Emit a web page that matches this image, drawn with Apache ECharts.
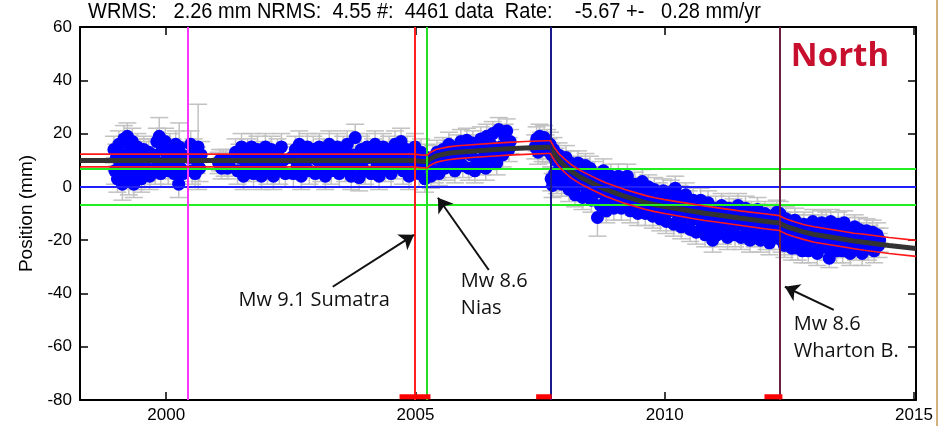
<!DOCTYPE html>
<html>
<head>
<meta charset="utf-8">
<script src="https://cdn.jsdelivr.net/npm/echarts@6/dist/echarts.min.js"></script>
<style>
  html, body { margin: 0; padding: 0; background: #fff; }
  #chart { width: 940px; height: 426px; }
</style>
</head>
<body>
<div id="chart"></div>
<script>
// daily north positions: [decimal year, north (mm), sigma (mm)]
const obsNorth = [
  [1998.95,14,5],[1998.97,6,5],[1999.00,11,5],[1999.02,3,5],[1999.05,16,5],[1999.07,8,5],[1999.10,12,5],[1999.12,1,6],
  [1999.15,18,5],[1999.17,5,5],[1999.20,10,5],[1999.22,19,5],[1999.25,2,5],[1999.27,14,5],[1999.30,7,5],[1999.32,17,5],
  [1999.35,1,5],[1999.37,11,5],[1999.40,4,5],[1999.42,15,5],[1999.45,8,5],[1999.47,13,5],[1999.50,3,5],[1999.52,10,5],
  [1999.55,14,5],[1999.57,5,5],[1999.60,12,5],[1999.62,7,5],[1999.65,13,5],[1999.67,4,5],
  [1999.75,12,5],[1999.78,6,5],[1999.81,17,5],[1999.84,9,5],[1999.86,19,7],[1999.89,5,5],[1999.92,14,5],[1999.95,8,5],
  [1999.98,17,5],[2000.01,11,5],[2000.04,6,5],[2000.07,15,5],[2000.10,9,5],[2000.13,13,5],[2000.16,5,5],[2000.19,16,5],
  [2000.22,10,5],[2000.25,1,5],[2000.26,15,9],[2000.29,7,5],[2000.32,12,5],[2000.34,5,5],
  [2000.46,11,5],[2000.49,16,5],[2000.52,6,5],[2000.55,13,5],[2000.58,5,5],[2000.61,10,5],[2000.64,15,16],[2000.67,7,5],[2000.70,12,5],
  [2001.05,9,4],[2001.08,10,4],[2001.11,7,4],[2001.14,10,4],[2001.17,8,4],[2001.20,10,4],[2001.23,7,4],[2001.26,9,4],
  [2001.39,13,5],[2001.43,6,5],[2001.47,11,5],[2001.51,15,5],[2001.55,4,5],[2001.59,9,5],[2001.63,13,5],[2001.67,7,5],
  [2001.71,15,5],[2001.75,5,5],[2001.79,11,5],[2001.83,14,5],[2001.87,8,5],[2001.91,4,5],[2001.95,12,5],[2001.99,15,5],
  [2002.03,6,5],[2002.07,10,5],[2002.11,14,5],[2002.15,4,5],[2002.19,9,5],[2002.23,13,5],[2002.27,6,5],[2002.31,15,5],
  [2002.35,10,5],[2002.39,5,5],
  [2002.51,11,5],[2002.55,5,5],[2002.59,14,5],[2002.63,8,5],[2002.67,16,5],[2002.71,4,5],[2002.75,12,5],[2002.79,9,5],
  [2002.83,15,5],[2002.87,6,5],[2002.91,11,5],[2002.95,14,5],[2002.99,5,5],[2003.03,10,5],[2003.07,15,5],[2003.11,7,5],
  [2003.15,13,5],[2003.19,4,5],[2003.23,10,5],[2003.27,16,5],[2003.31,6,5],[2003.35,12,5],[2003.39,9,5],[2003.43,15,5],
  [2003.47,5,5],[2003.51,11,5],[2003.55,14,5],[2003.59,7,5],[2003.63,16,5],[2003.67,9,5],[2003.71,4,5],[2003.75,12,5],
  [2003.79,18.5,5],[2003.83,8,5],[2003.87,3.5,5],[2003.91,14,5],[2003.95,10,5],[2003.99,6,5],[2004.03,15,5],[2004.07,11,5],
  [2004.11,5,5],[2004.15,13,5],[2004.19,16,5],[2004.23,8,5],[2004.27,4,5],[2004.31,12,5],[2004.35,15,5],[2004.39,7,5],
  [2004.43,10,5],[2004.47,14,5],[2004.51,5,5],[2004.55,11,5],[2004.59,16,5],[2004.63,8,5],[2004.67,13,5],[2004.71,17,5],
  [2004.75,6,5],[2004.79,10,5],[2004.83,14,5],[2004.87,4,5],[2004.91,12,5],[2004.95,8,5],[2004.99,15,5],[2005.03,10,5],
  [2005.07,5,5],[2005.11,13,5],[2005.15,8,5],[2005.19,3,5],[2005.23,11,5],
  [2005.27,8,4.5],[2005.31,4,4.5],[2005.35,11,4.5],[2005.39,6,4.5],[2005.43,13,4.5],[2005.47,5,4.5],[2005.51,10,4.5],[2005.55,14,4.5],
  [2005.59,7,4.5],[2005.63,12,4.5],[2005.67,16,4.5],[2005.71,8,4.5],[2005.75,13,4.5],[2005.79,6,4.5],[2005.83,15,4.5],[2005.87,10,4.5],
  [2005.91,17,4.5],[2005.95,8,4.5],[2005.99,13,4.5],[2006.03,17.5,4.5],[2006.07,7,4.5],[2006.11,12,4.5],[2006.15,16.5,4.5],[2006.19,6,4.5],
  [2006.23,10,4.5],[2006.27,15,4.5],[2006.31,18,4.5],[2006.35,9,4.5],[2006.39,13,4.5],[2006.41,7,4.5],[2006.43,19,4.5],[2006.47,11,4.5],
  [2006.51,16,4.5],[2006.55,20,4.5],[2006.59,12,4.5],[2006.63,9,4.5],[2006.67,21.5,4.5],[2006.71,15,4.5],[2006.75,12,4.5],[2006.79,19,4.5],
  [2006.83,21,4.5],[2006.87,14,4.5],[2006.90,17,4.5],
  [2007.40,15,4.5],[2007.43,18,4.5],[2007.46,13,4.5],[2007.49,19,4.5],[2007.52,16,4.5],[2007.55,14,4.5],[2007.58,18.5,4.5],[2007.61,15,4.5],
  [2007.64,17,4.5],[2007.67,13.5,4.5],[2007.70,16,4.5],
  [2007.72,3,4.5],[2007.73,12,4.5],[2007.75,0.5,4.5],[2007.77,14,4.5],[2007.79,5,4.5],[2007.81,10,4.5],[2007.84,2,4.5],[2007.87,12,4.5],
  [2007.90,7,4.5],[2007.93,1,4.5],[2007.96,9,4.5],[2007.99,4,4.5],[2008.02,11,4.5],[2008.05,6,4.5],[2008.08,-1,4.5],[2008.11,9,4.5],
  [2008.14,3,4.5],[2008.17,7,4.5],[2008.20,-3,4.5],[2008.23,5,4.5],[2008.26,9,4.5],[2008.29,1,4.5],[2008.32,6,4.5],[2008.35,-4,4.5],
  [2008.38,4,4.5],[2008.41,8,4.5],[2008.44,-1,4.5],[2008.47,3,4.5],[2008.50,7,4.5],[2008.53,-5,4.5],[2008.56,1,4.5],[2008.59,5,4.5],
  [2008.62,-2,4.5],[2008.65,-11.5,7],[2008.68,3,4.5],[2008.71,-7,4.5],[2008.74,0,4.5],[2008.77,6,4.5],[2008.80,-3,4.5],[2008.83,-9,4.5],
  [2008.86,2,4.5],[2008.89,-5,4.5],[2008.92,4,4.5],[2008.95,-1,4.5],[2008.98,-8,4.5],[2009.01,1,4.5],[2009.04,-4,4.5],[2009.07,4,4.5],
  [2009.10,-2,4.5],[2009.13,-8,4.5],[2009.16,0,4.5],[2009.19,-5,4.5],[2009.22,2,4.5],[2009.25,4,4.5],[2009.28,-3,4.5],[2009.31,-9,4.5],
  [2009.34,-1,4.5],[2009.37,-6,4.5],[2009.40,1,4.5],[2009.43,-4,4.5],[2009.46,-10,4.5],[2009.49,-2,4.5],[2009.52,-6,4.5],[2009.55,2,4.5],
  [2009.58,-3,4.5],[2009.61,-10,4.5],[2009.64,-5,4.5],[2009.67,0,4.5],[2009.70,-7,4.5],[2009.73,-3,4.5],[2009.76,-11,4.5],[2009.79,-1,4.5],
  [2009.82,-6,4.5],[2009.85,-10,4.5],[2009.88,-3,4.5],[2009.91,-12,4.5],[2009.94,-5,4.5],[2009.97,-1.5,4.5],[2010.00,-8,4.5],[2010.03,-13,4.5],
  [2010.06,-4,4.5],[2010.09,-9,4.5],[2010.12,-2,4.5],[2010.15,-6,4.5],[2010.18,-14,4.5],[2010.21,-0.5,4.5],[2010.24,-8,4.5],[2010.27,-12,4.5],
  [2010.30,-4,4.5],[2010.33,-15,4.5],[2010.36,-7,4.5],[2010.39,-10,4.5],[2010.42,-3,4.5],[2010.45,-13,4.5],[2010.48,-6,4.5],[2010.51,-16,4.5],
  [2010.54,-9,4.5],[2010.57,-5,4.5],[2010.60,-12,4.5],[2010.63,-17,4.5],[2010.66,-8,4.5],[2010.69,-11,4.5],[2010.72,-5,4.5],[2010.75,-14,4.5],
  [2010.78,-9,4.5],[2010.81,-18,4.5],[2010.84,-12,4.5],[2010.87,-6,4.5],[2010.90,-15,4.5],[2010.93,-10,4.5],[2010.96,-20,4.5],[2010.99,-13,4.5],
  [2011.02,-8,4.5],[2011.05,-18,4.5],[2011.08,-11,4.5],[2011.11,-14,4.5],[2011.14,-7,4.5],[2011.17,-17,4.5],[2011.20,-10,4.5],[2011.23,-13,4.5],
  [2011.26,-19,4.5],[2011.29,-8,4.5],[2011.32,-12,4.5],[2011.35,-15,4.5],[2011.38,-9,4.5],[2011.41,-18,4.5],[2011.44,-11,4.5],[2011.47,-7,4.5],
  [2011.50,-14,4.5],[2011.53,-19,4.5],[2011.56,-10,4.5],[2011.59,-13,4.5],[2011.62,-8,4.5],[2011.65,-17,4.5],[2011.68,-12,4.5],[2011.71,-20,4.5],
  [2011.74,-10,4.5],[2011.77,-14,4.5],[2011.80,-18,4.5],[2011.83,-11,4.5],[2011.86,-8.5,4.5],[2011.89,-15,4.5],[2011.92,-20,4.5],[2011.95,-12,4.5],
  [2011.98,-16,4.5],[2012.01,-10,4.5],[2012.04,-19,4.5],[2012.07,-13,4.5],[2012.10,-21,4.5],[2012.13,-11,4.5],[2012.16,-15,4.5],[2012.19,-19,4.5],
  [2012.22,-12,4.5],[2012.25,-9.5,4.5],[2012.28,-17,4.5],[2012.31,-10,4.5],[2012.34,-20,4.5],[2012.37,-14,4.5],[2012.40,-22,4.5],[2012.43,-12,4.5],
  [2012.46,-17,4.5],[2012.49,-21,4.5],[2012.52,-14,4.5],[2012.55,-23,4.5],[2012.58,-16,4.5],[2012.61,-12.5,4.5],[2012.64,-19,4.5],[2012.67,-23,4.5],
  [2012.70,-15,4.5],[2012.73,-18,4.5],[2012.76,-24,4.5],[2012.79,-14,4.5],[2012.82,-20,4.5],[2012.85,-17,4.5],[2012.88,-24,4.5],[2012.91,-15,4.5],
  [2012.94,-19,4.5],[2012.97,-13,4.5],[2013.00,-21,4.5],[2013.03,-17,4.5],[2013.06,-25,4.5],[2013.09,-15,4.5],[2013.12,-20,4.5],[2013.15,-13.5,4.5],
  [2013.18,-22,4.5],[2013.21,-18,4.5],[2013.24,-14,4.5],[2013.27,-23,4.5],[2013.30,-26.8,3.5],[2013.33,-13,4.5],[2013.36,-19,4.5],[2013.39,-22,4.5],
  [2013.42,-16,4.5],[2013.45,-24,4.5],[2013.48,-14,4.5],[2013.51,-20,4.5],[2013.54,-17,4.5],[2013.57,-24,4.5],[2013.60,-13.5,4.5],[2013.63,-19,4.5],
  [2013.66,-22,4.5],[2013.69,-16,4.5],[2013.72,-25,4.5],[2013.75,-18,4.5],[2013.78,-21,4.5],[2013.81,-15,4.5],[2013.84,-23,4.5],[2013.87,-19,4.5],
  [2013.90,-16,4.5],[2013.93,-22,4.5],[2013.96,-25,4.5],[2013.99,-18,4.5],[2014.02,-20,4.5],[2014.05,-16.5,4.5],[2014.08,-23,4.5],[2014.11,-19,4.5],
  [2014.14,-21,4.5],[2014.17,-17,4.5],[2014.20,-24,4.5],[2014.23,-20,4.5],[2014.26,-18,4.5],[2014.29,-22,4.5],[2014.31,-20,4.5]
];

// fitted model (black) and its uncertainty (red envelope)
const modelYears = [1998.27, 2004.98, 2005.10, 2005.24, 2005.28, 2005.32, 2005.40, 2005.50, 2005.66, 2005.85,
  2006.2, 2006.6, 2006.86, 2007.2, 2007.62, 2007.71, 2007.74, 2007.78, 2007.83, 2007.9,
  2008.0, 2008.12, 2008.3, 2008.5, 2008.8, 2009.2, 2009.6, 2009.8, 2010.0, 2010.5,
  2010.8, 2011.0, 2011.5, 2012.0, 2012.3, 2012.35, 2012.45, 2012.6, 2012.8, 2013.0,
  2013.5, 2013.8, 2014.0, 2014.5, 2015.04];
const modelNorth = [9.9, 9.9, 9.6, 9.5, 10.3, 10.8, 11.5, 12.0, 12.6, 13.0,
  13.5, 14.0, 14.3, 14.6, 14.9, 14.9, 13.8, 12.5, 11.2, 9.6,
  7.8, 5.9, 3.7, 1.8, -0.9, -3.6, -5.8, -6.7, -7.4, -9.0,
  -9.9, -10.4, -11.7, -12.9, -13.6, -14.1, -15.0, -15.9, -17.0, -17.9,
  -19.4, -20.3, -20.8, -22.0, -23.1];
const modelSigma = [2.4, 2.4, 2.4, 2.4, 2.4, 2.4, 2.4, 2.4, 2.4, 2.4,
  2.4, 2.4, 2.4, 2.4, 2.4, 2.4, 2.4, 2.4, 2.4, 2.4,
  2.5, 2.5, 2.5, 2.5, 2.5, 2.6, 2.6, 2.6, 2.6, 2.7,
  2.7, 2.7, 2.7, 2.8, 2.8, 2.8, 2.8, 2.8, 2.8, 2.9,
  2.9, 2.9, 3.0, 3.0, 3.0];

const eventYears = [2000.44, 2004.99, 2005.22, 2007.71, 2012.30];
const eventColors = ['#ff33ff', '#ff2020', '#22dd22', '#1a1a8a', '#6e2040'];
const breakSpans = [[2004.68, 2005.30], [2007.42, 2007.73], [2012.00, 2012.36]];
const breakLevel = -78.8;
const limitLevels = [6.9, -6.9];
const zeroLevel = 0;
const xTicks = [2000, 2005, 2010, 2015];
const statsText = 'WRMS:   2.26 mm NRMS:  4.55 #:  4461 data  Rate:    -5.67 +-   0.28 mm/yr';

const noteTexts = ['Mw 9.1 Sumatra', 'Mw 8.6\nNias', 'Mw 8.6\nWharton B.'];
const noteAnchors = [[2001.45, -37.4], [2005.91, -30.4], [2012.59, -46.7]];
const arrowTails = [[2003.34, -37.5], [2006.47, -31.2], [2013.39, -46.2]];
const arrowHeads = [[2004.97, -18.0], [2005.45, -4.1], [2012.41, -37.5]];

const X_MIN = 1998.27, X_MAX = 2015.04;

const chart = echarts.init(document.getElementById('chart'));

const tickFont = { fontFamily: 'Liberation Sans', fontSize: 17, color: '#000' };

function errorBars(params, api) {
  const t = api.value(0), n = api.value(1), s = api.value(2);
  const hi = api.coord([t, n + s]);
  const lo = api.coord([t, n - s]);
  const cap = 9;
  const style = { stroke: '#c2c2c2', lineWidth: 1.5 };
  return {
    type: 'group',
    children: [
      { type: 'line', shape: { x1: hi[0], y1: hi[1], x2: lo[0], y2: lo[1] }, style },
      { type: 'line', shape: { x1: hi[0] - cap, y1: hi[1], x2: hi[0] + cap, y2: hi[1] }, style },
      { type: 'line', shape: { x1: lo[0] - cap, y1: lo[1], x2: lo[0] + cap, y2: lo[1] }, style }
    ]
  };
}

const modelLine = modelYears.map((t, i) => [t, modelNorth[i]]);
const upperLine = modelYears.map((t, i) => [t, modelNorth[i] + modelSigma[i]]);
const lowerLine = modelYears.map((t, i) => [t, modelNorth[i] - modelSigma[i]]);

const series = [
  {
    type: 'custom', name: 'sigma', renderItem: errorBars, data: obsNorth,
    encode: { x: 0, y: 1 }, z: 1, silent: true
  },
  {
    type: 'scatter', name: 'north', data: obsNorth.map(r => [r[0], r[1]]),
    symbolSize: 13, itemStyle: { color: '#0000ff', opacity: 1 }, z: 2, silent: true
  },
  {
    type: 'line', name: 'levels', data: [], z: 3, silent: true,
    markLine: {
      symbol: 'none', silent: true, animation: false, label: { show: false },
      data: [
        { yAxis: zeroLevel, lineStyle: { color: '#2020ff', width: 2, type: 'solid' } },
        ...limitLevels.map(v => ({ yAxis: v, lineStyle: { color: '#22ee22', width: 2, type: 'solid' } }))
      ]
    }
  },
  {
    type: 'line', name: 'model', data: modelLine, showSymbol: false, z: 4, silent: true,
    lineStyle: { color: '#333333', width: 5 }
  },
  {
    type: 'line', name: 'upper', data: upperLine, showSymbol: false, z: 5, silent: true,
    lineStyle: { color: '#ff1a1a', width: 1.6 }
  },
  {
    type: 'line', name: 'lower', data: lowerLine, showSymbol: false, z: 5, silent: true,
    lineStyle: { color: '#ff1a1a', width: 1.6 }
  },
  {
    type: 'line', name: 'events', data: [], z: 6, silent: true,
    markLine: {
      symbol: 'none', silent: true, animation: false, label: { show: false },
      data: eventYears.map((t, i) => ({ xAxis: t, lineStyle: { color: eventColors[i], width: 2, type: 'solid' } }))
    }
  },
  ...breakSpans.map(s => ({
    type: 'line', data: [[s[0], breakLevel], [s[1], breakLevel]], showSymbol: false, z: 7, silent: true,
    lineStyle: { color: '#ff0000', width: 5 }
  })),
  {
    type: 'line', name: 'arrows', data: [], z: 8, silent: true,
    markLine: {
      symbol: ['none', 'arrow'], symbolSize: 14, silent: true, animation: false, label: { show: false },
      lineStyle: { color: '#111', width: 2, type: 'solid' },
      data: arrowTails.map((a, i) => [{ coord: a }, { coord: arrowHeads[i] }])
    }
  }
];

const yearLabel = v => String(Math.round(v));

chart.setOption({
  animation: false,
  backgroundColor: '#fff',
  grid: { left: 80, right: 24, top: 27, bottom: 26 },
  xAxis: [
    {
      type: 'value', min: X_MIN, max: X_MAX, position: 'bottom',
      axisLine: { onZero: false, lineStyle: { color: '#000', width: 2 } },
      axisTick: { inside: true, length: 8, customValues: xTicks, lineStyle: { color: '#000', width: 1.5 } },
      axisLabel: Object.assign({ customValues: xTicks, margin: 7, formatter: yearLabel }, tickFont),
      splitLine: { show: false }
    },
    {
      type: 'value', min: X_MIN, max: X_MAX, position: 'top',
      axisLine: { onZero: false, lineStyle: { color: '#000', width: 2 } },
      axisTick: { inside: true, length: 8, customValues: xTicks, lineStyle: { color: '#000', width: 1.5 } },
      axisLabel: { show: false },
      splitLine: { show: false }
    }
  ],
  yAxis: [
    {
      type: 'value', min: -80, max: 60, interval: 20, position: 'left',
      name: 'Position (mm)', nameLocation: 'middle', nameGap: 36,
      nameTextStyle: { fontFamily: 'Liberation Sans', fontSize: 19, color: '#000' },
      axisLine: { show: true, onZero: false, lineStyle: { color: '#000', width: 2 } },
      axisTick: { show: true, inside: true, length: 8, lineStyle: { color: '#000', width: 1.5 } },
      axisLabel: Object.assign({ margin: 8 }, tickFont),
      splitLine: { show: false }
    },
    {
      type: 'value', min: -80, max: 60, interval: 20, position: 'right',
      axisLine: { show: true, onZero: false, lineStyle: { color: '#000', width: 2 } },
      axisTick: { show: true, inside: true, length: 8, lineStyle: { color: '#000', width: 1.5 } },
      axisLabel: { show: false },
      splitLine: { show: false }
    }
  ],
  series: series
});

// text overlays: stats line, component name, earthquake notes
const graphics = [
  {
    type: 'text', x: 88, y: 1, scaleY: 1.12,
    style: { text: statsText, font: '20px "Liberation Sans"', fill: '#000', verticalAlign: 'top' }
  },
  {
    type: 'text', x: 840, y: 57,
    style: { text: 'North', font: 'bold 33px "Open Sans"', fill: '#c8102e', align: 'center', verticalAlign: 'middle' }
  },
  {
    type: 'line', shape: { x1: 937, y1: 0, x2: 937, y2: 426 },
    style: { stroke: '#d2b27a', lineWidth: 2 }
  }
];
noteTexts.forEach((txt, i) => {
  const p = chart.convertToPixel({ gridIndex: 0 }, noteAnchors[i]);
  graphics.push({
    type: 'text', x: p[0], y: p[1], z: 100,
    style: { text: txt, font: '20px "Open Sans"', lineHeight: 27, fill: '#111', align: 'left', verticalAlign: 'top' }
  });
});
chart.setOption({ graphic: graphics });
</script>
</body>
</html>
